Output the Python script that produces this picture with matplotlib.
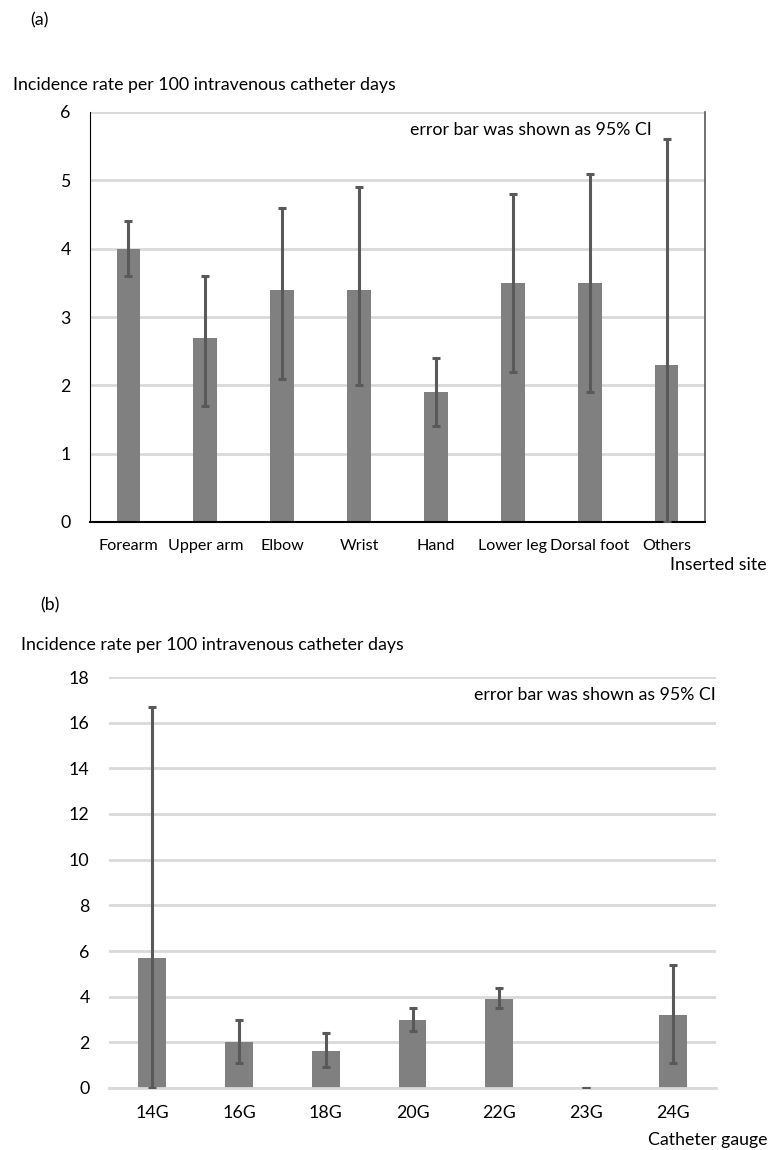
import matplotlib.pyplot as plt

# (a) incidence per inserted site
sites = ['Forearm', 'Upper arm', 'Elbow', 'Wrist', 'Hand', 'Lower leg', 'Dorsal foot', 'Others']
site_rate = [4.0, 2.7, 3.4, 3.4, 1.9, 3.5, 3.5, 2.3]
site_lo = [3.6, 1.7, 2.1, 2.0, 1.4, 2.2, 1.9, 0.0]
site_hi = [4.4, 3.6, 4.6, 4.9, 2.4, 4.8, 5.1, 5.6]

# (b) incidence per catheter gauge
gauges = ['14G', '16G', '18G', '20G', '22G', '23G', '24G']
gauge_rate = [5.7, 2.0, 1.6, 3.0, 3.9, 0.0, 3.2]
gauge_lo = [0.0, 1.1, 0.9, 2.5, 3.5, 0.0, 1.1]
gauge_hi = [16.7, 3.0, 2.4, 3.5, 4.4, 0.0, 5.4]

plt.rcParams['font.family'] = ['Lato', 'DejaVu Sans']

W, H = 769, 1150
fig = plt.figure(figsize=(W / 100, H / 100), dpi=100)

def box(l, t, r, b):
    return [l / W, 1 - b / H, (r - l) / W, (b - t) / H]

bar_col = '#808080'
err_col = '#595959'
grid_col = '#d9d9d9'
fs = 12.8


def draw(ax, cats, rate, lo, hi, ymax, step, width, xfs):
    x = list(range(len(cats)))
    ax.bar(x, rate, width=width, color=bar_col, zorder=2)
    yerr = [[r - l for r, l in zip(rate, lo)], [h - r for r, h in zip(rate, hi)]]
    ax.errorbar(x, rate, yerr=yerr, fmt='none', ecolor=err_col, elinewidth=2.2,
                capsize=3, capthick=2.2, zorder=3)
    ax.set_xlim(-0.5, len(cats) - 0.5)
    ax.set_ylim(0, ymax)
    ax.set_yticks(range(0, ymax + 1, step))
    ax.set_xticks(x)
    ax.set_xticklabels(cats)
    ax.tick_params(length=0, labelsize=fs, colors='black')
    ax.tick_params(axis='x', pad=12, labelsize=xfs)
    ax.yaxis.grid(True, color=grid_col, lw=2, zorder=0)
    ax.set_axisbelow(True)


ax1 = fig.add_axes(box(90, 112, 705, 522))
draw(ax1, sites, site_rate, site_lo, site_hi, 6, 1, 0.31, 11.6)
ax1.tick_params(axis='y', pad=14)
ax1.spines['top'].set_visible(False)
ax1.spines['left'].set_color('black')
ax1.spines['bottom'].set_color('black')
ax1.spines['bottom'].set_linewidth(1.5)
ax1.spines['right'].set_color('#595959')
ax1.spines['right'].set_linewidth(1.2)
ax1.text(0.52, 0.956, 'error bar was shown as 95% CI', transform=ax1.transAxes,
         fontsize=fs, va='center')

ax2 = fig.add_axes(box(109, 677, 716, 1088))
draw(ax2, gauges, gauge_rate, gauge_lo, gauge_hi, 18, 2, 0.32, fs)
ax2.tick_params(axis='y', pad=14)
for s in ['top', 'left', 'right']:
    ax2.spines[s].set_visible(False)
ax2.spines['bottom'].set_color(grid_col)
ax2.spines['bottom'].set_linewidth(2)
ax2.text(1.0, 0.956, 'error bar was shown as 95% CI', transform=ax2.transAxes,
         fontsize=fs, ha='right', va='center')

fig.text(30 / W, 1 - 20 / H, '(a)', fontsize=fs, va='center')
fig.text(13 / W, 1 - 85 / H, 'Incidence rate per 100 intravenous catheter days', fontsize=fs, va='center')
fig.text(767 / W, 1 - 565 / H, 'Inserted site', fontsize=fs, va='center', ha='right')
fig.text(40 / W, 1 - 605 / H, '(b)', fontsize=fs, va='center')
fig.text(21 / W, 1 - 645 / H, 'Incidence rate per 100 intravenous catheter days', fontsize=fs, va='center')
fig.text(767 / W, 1 - 1140 / H, 'Catheter gauge', fontsize=fs, va='center', ha='right')

fig.savefig('out.png', dpi=100, facecolor='white')
